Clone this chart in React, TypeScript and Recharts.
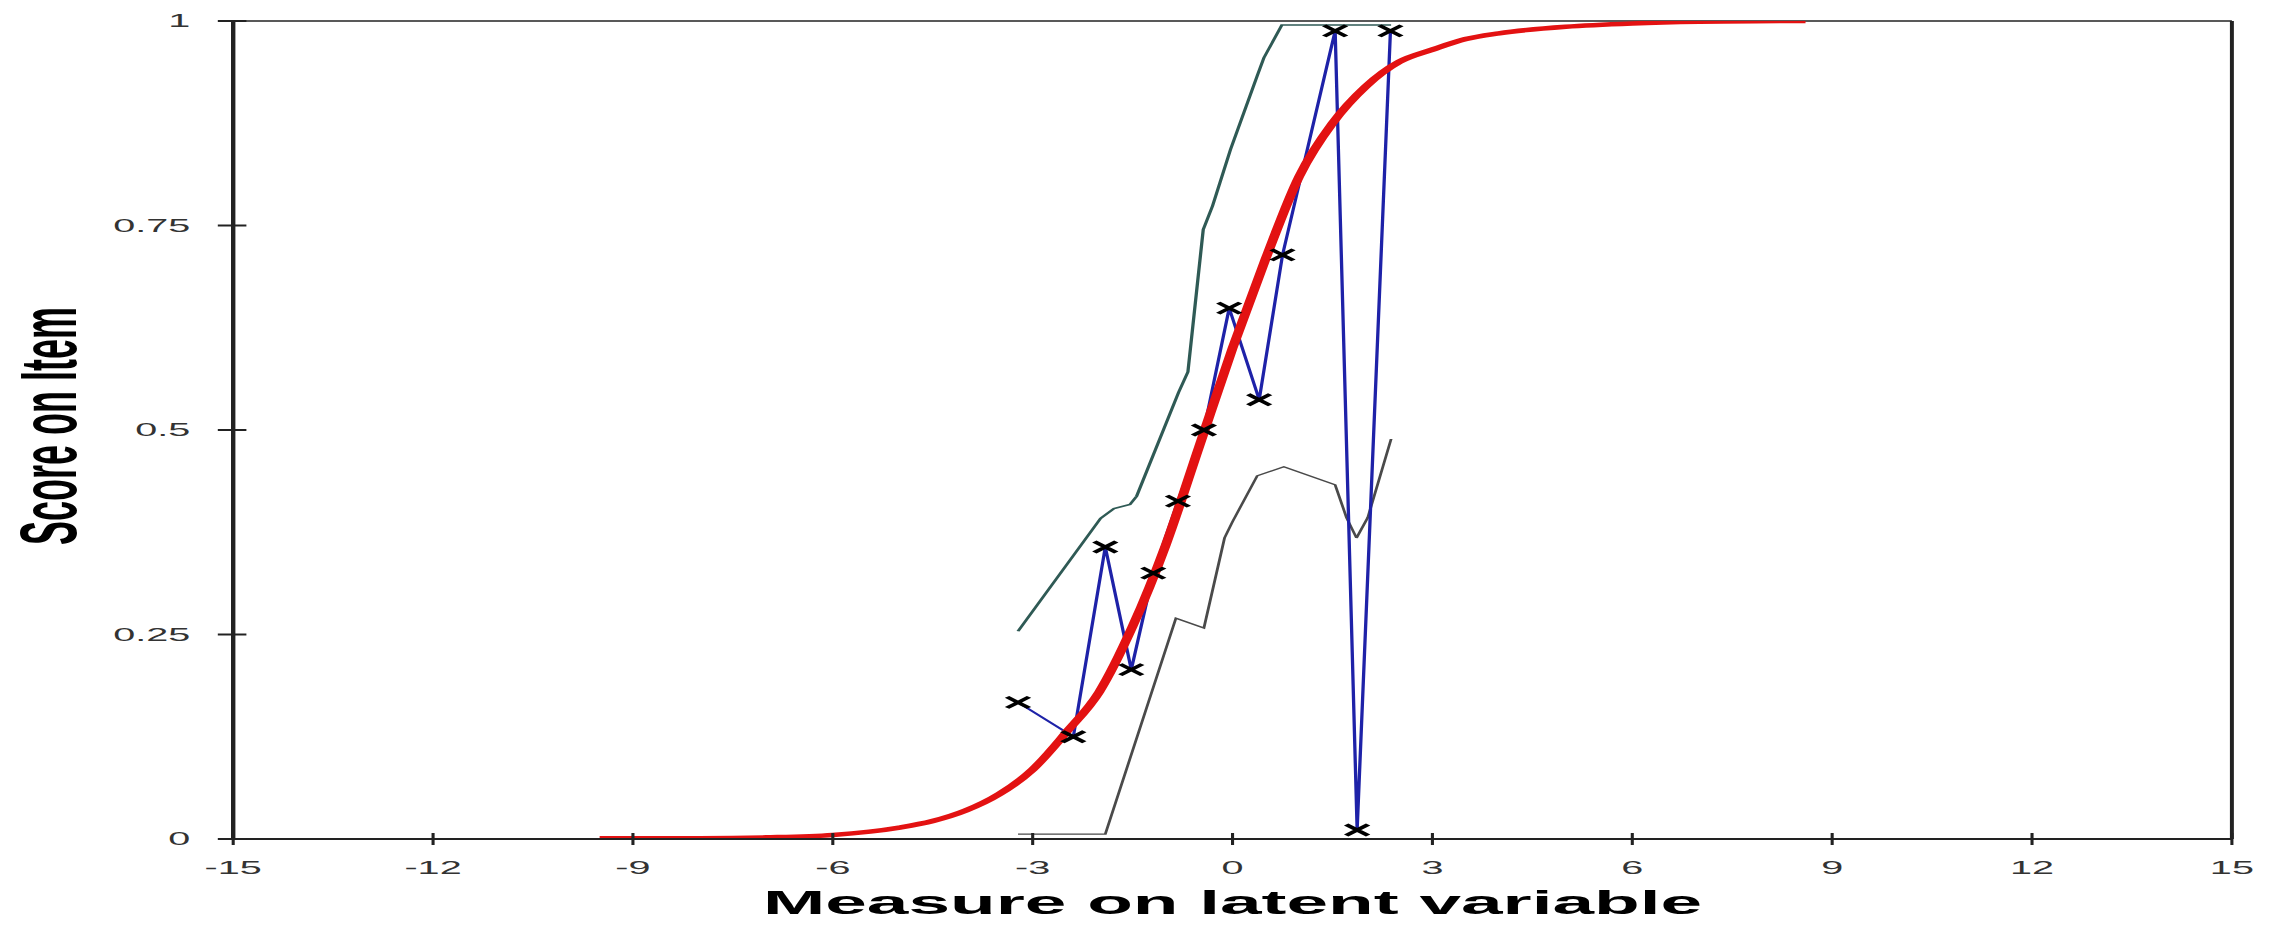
import React from 'react';
import { ComposedChart, Line, XAxis, YAxis, ReferenceLine, Label } from 'recharts';

// ---- data ----
const xTicks = [-15, -12, -9, -6, -3, 0, 3, 6, 9, 12, 15];
const yTicks = [0, 0.25, 0.5, 0.75, 1];

// observed class means (blue line with black crosses)
const observedX = [-3.22, -2.39, -1.91, -1.52, -1.19, -0.82, -0.43, -0.05, 0.4, 0.75, 1.54, 1.87, 2.37];
const observedY = [0.167, 0.125, 0.357, 0.207, 0.325, 0.413, 0.5, 0.649, 0.537, 0.714, 0.988, 0.011, 0.988];

// expected score curve (red)
const modelX = [-9.5, -8, -7, -6, -5, -4.5, -4, -3.5, -3, -2.5, -2, -1.5, -1, -0.5, 0, 0.5, 1, 1.5, 2, 2.5, 3, 3.5, 4, 5, 6, 7, 8.6];
const modelY = [0.001, 0.001, 0.002, 0.005, 0.014, 0.022, 0.035, 0.055, 0.085, 0.13, 0.18, 0.26, 0.36, 0.48, 0.6, 0.71, 0.81, 0.875, 0.92, 0.95, 0.965, 0.978, 0.985, 0.993, 0.997, 0.999, 1.0];

// upper confidence band
const upperX = [-3.22, -1.98, -1.78, -1.54, -1.44, -0.81, -0.67, -0.44, -0.3, -0.03, 0.37, 0.47, 0.74, 2.38];
const upperY = [0.254, 0.392, 0.404, 0.409, 0.419, 0.546, 0.571, 0.745, 0.774, 0.843, 0.933, 0.955, 0.995, 0.995];

// lower confidence band
const lowerX = [-3.22, -1.91, -0.85, -0.43, -0.12, 0.0, 0.37, 0.77, 1.54, 1.71, 1.86, 2.03, 2.38];
const lowerY = [0.006, 0.006, 0.27, 0.258, 0.368, 0.388, 0.444, 0.455, 0.433, 0.393, 0.368, 0.393, 0.489];

const toPoints = (xs: number[], ys: number[]) => xs.map((x, i) => ({ x, y: ys[i] }));
const observed = toPoints(observedX, observedY);
const model = toPoints(modelX, modelY);
const upper = toPoints(upperX, upperY);
const lower = toPoints(lowerX, lowerY);

const FONT = "Arial, 'Liberation Sans', Helvetica, sans-serif";
const STRETCH = 2.2;
const W = 1036;
const H = 915;

const YTick = (props: any) => {
  const { x, y, payload } = props;
  return (
    <g>
      <line x1={x - 7} x2={x + 6} y1={y} y2={y} stroke="#222" strokeWidth={2} />
      <text x={x - 19.5} y={y} dy="0.36em" textAnchor="end" fontSize={18} fontFamily={FONT} fill="#333">
        {String(payload.value)}
      </text>
    </g>
  );
};

const XTick = (props: any) => {
  const { x, y, payload } = props;
  return (
    <g>
      <line x1={x} x2={x} y1={y - 6} y2={y + 6} stroke="#222" strokeWidth={1.4} />
      <text x={x} y={y + 29} dy="0.36em" textAnchor="middle" fontSize={18} fontFamily={FONT} fill="#333">
        {String(payload.value)}
      </text>
    </g>
  );
};

const Cross = (props: any) => {
  const { cx, cy, index } = props;
  if (cx == null || cy == null) return <g key={`c-${index}`} />;
  const w = 5;
  const h = 5.5;
  return (
    <path
      key={`c-${index}`}
      d={`M${cx - w},${cy - h}L${cx + w},${cy + h}M${cx - w},${cy + h}L${cx + w},${cy - h}`}
      stroke="#000"
      strokeWidth={2.7}
      fill="none"
    />
  );
};

const XTitle = (props: any) => {
  const vb = props.viewBox || {};
  const cx = (vb.x ?? 0) + (vb.width ?? 0) / 2;
  return (
    <text x={cx} y={906} textAnchor="middle" fontSize={34} fontWeight="bold" fontFamily={FONT} fill="#000">
      Measure on latent variable
    </text>
  );
};

const YTitle = () => {
  const cx = 34.5;
  const cy = 418;
  return (
    <text
      x={cx}
      y={cy}
      transform={`rotate(-90, ${cx}, ${cy})`}
      textAnchor="middle"
      fontSize={36}
      fontWeight="bold"
      fontFamily={FONT}
      fill="#000"
    >
      Score on Item
    </text>
  );
};

export default function App() {
  return (
    <div
      style={{
        width: W,
        height: H,
        marginLeft: -8,
        transform: `scaleX(${STRETCH})`,
        transformOrigin: '0 0',
        background: '#fff',
      }}
    >
      <ComposedChart width={W} height={H} margin={{ top: 13, right: 21.5, left: 6, bottom: 0 }}>
        <XAxis
          type="number"
          dataKey="x"
          domain={[-15, 15]}
          ticks={xTicks}
          interval={0}
          allowDataOverflow
          height={84}
          tickSize={0}
          tickMargin={0}
          tickLine={false}
          axisLine={{ stroke: '#222', strokeWidth: 2 }}
          tick={<XTick />}
        >
          <Label content={<XTitle />} />
        </XAxis>
        <YAxis
          type="number"
          dataKey="y"
          domain={[0, 1]}
          ticks={yTicks}
          interval={0}
          allowDataOverflow
          width={100}
          tickSize={0}
          tickMargin={0}
          tickLine={false}
          axisLine={{ stroke: '#222', strokeWidth: 2 }}
          tick={<YTick />}
        >
          <Label content={<YTitle />} />
        </YAxis>
        <ReferenceLine y={1} stroke="#222" strokeWidth={1.5} />
        <ReferenceLine x={15} stroke="#222" strokeWidth={1.8} />
        <Line
          data={lower}
          dataKey="y"
          type="linear"
          stroke="#4a4a4a"
          strokeWidth={1.3}
          dot={false}
          activeDot={false}
          isAnimationActive={false}
        />
        <Line
          data={upper}
          dataKey="y"
          type="linear"
          stroke="#2f5a55"
          strokeWidth={1.5}
          dot={false}
          activeDot={false}
          isAnimationActive={false}
        />
        <Line
          data={observed}
          dataKey="y"
          type="linear"
          stroke="#1e22a8"
          strokeWidth={1.5}
          dot={false}
          activeDot={false}
          isAnimationActive={false}
        />
        <Line
          data={model}
          dataKey="y"
          type="monotone"
          stroke="#e31212"
          strokeWidth={4.5}
          dot={false}
          activeDot={false}
          isAnimationActive={false}
        />
        <Line
          data={observed}
          dataKey="y"
          type="linear"
          stroke="none"
          dot={<Cross />}
          activeDot={false}
          isAnimationActive={false}
        />
      </ComposedChart>
    </div>
  );
}
